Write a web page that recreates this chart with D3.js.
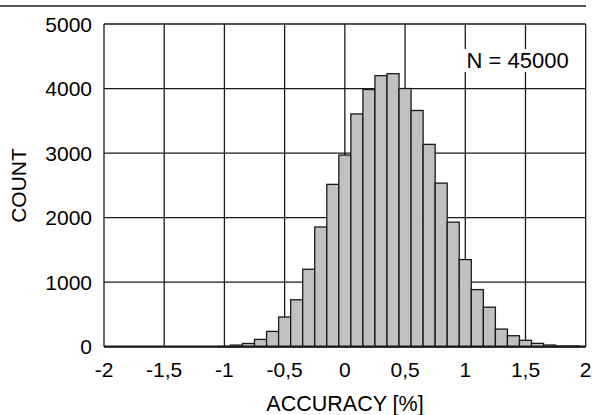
<!DOCTYPE html>
<html><head><meta charset="utf-8">
<script src="https://cdn.jsdelivr.net/npm/d3@7"></script>
<style>
html,body{margin:0;padding:0;background:#fff;}
svg{display:block;font-family:"Liberation Sans",Arial,Helvetica,sans-serif;}
</style></head>
<body>
<svg id="chart" width="593" height="415"></svg>
<script>
const binCenters = [-1.0,-0.9,-0.8,-0.7,-0.6,-0.5,-0.4,-0.3,-0.2,-0.1,0.0,0.1,0.2,0.3,0.4,0.5,0.6,0.7,0.8,0.9,1.0,1.1,1.2,1.3,1.4,1.5,1.6,1.7,1.8,1.9];
const counts = [5,25,50,113,237,460,727,1200,1855,2515,2970,3607,3985,4200,4230,4000,3660,3135,2535,1930,1350,885,612,273,170,99,52,26,10,10];
const binWidth = 0.1;
const xTicks = [-2,-1.5,-1,-0.5,0,0.5,1,1.5,2];
const yTicks = [0,1000,2000,3000,4000,5000];
const xLabel = "ACCURACY [%]";
const yLabel = "COUNT";
const note = "N = 45000";

const svg = d3.select("#chart");
const L = 104, R = 585.7, T = 24, B = 346.7;
const x = d3.scaleLinear().domain([-2,2]).range([L,R]);
const y = d3.scaleLinear().domain([0,5000]).range([B,T]);
const ink = "#1a1a1a";
const fmt = d => String(d).replace(".", ",");

// top page rule
svg.append("line").attr("x1",0).attr("x2",586).attr("y1",6).attr("y2",6)
  .attr("stroke",ink).attr("stroke-width",1.6);

// grid
const g = svg.append("g");
g.selectAll("line.v").data(xTicks).join("line")
  .attr("x1",d=>x(d)).attr("x2",d=>x(d)).attr("y1",T).attr("y2",B)
  .attr("stroke",ink).attr("stroke-width",1.3);
g.selectAll("line.h").data(yTicks).join("line")
  .attr("x1",L).attr("x2",R).attr("y1",d=>y(d)).attr("y2",d=>y(d))
  .attr("stroke",ink).attr("stroke-width",1.3);

// N label with white background
const nx = 466.5, ny = 68;
const nt = svg.append("text").attr("x",nx).attr("y",ny)
  .attr("font-size",22).attr("fill","#000").text(note);
const bb = nt.node().getBBox();
svg.insert("rect", "text").attr("x",bb.x-4).attr("y",bb.y+1).attr("width",bb.width+7).attr("height",bb.height-2)
  .attr("fill","#fff");

// bars
svg.append("g").selectAll("rect").data(binCenters.map((c,i)=>({c, v:counts[i]}))).join("rect")
  .attr("x",d=>x(d.c-binWidth/2)).attr("width",d=>x(d.c+binWidth/2)-x(d.c-binWidth/2))
  .attr("y",d=>y(d.v)).attr("height",d=>y(0)-y(d.v))
  .attr("fill","#c0c0c0").attr("stroke",ink).attr("stroke-width",1.3);

// bottom axis line (thicker)
svg.append("line").attr("x1",L).attr("x2",R).attr("y1",B).attr("y2",B)
  .attr("stroke",ink).attr("stroke-width",2.2);

// tick labels
svg.append("g").selectAll("text").data(xTicks).join("text")
  .attr("x",d=>x(d)).attr("y",377).attr("text-anchor","middle")
  .attr("font-size",21).text(fmt);
svg.append("g").selectAll("text").data(yTicks).join("text")
  .attr("x",92).attr("y",d=>y(d)+7.5).attr("text-anchor","end")
  .attr("font-size",21).text(d=>String(d));

// axis titles
svg.append("text").attr("x",345).attr("y",410.5).attr("text-anchor","middle")
  .attr("font-size",21.5).text(xLabel);
svg.append("text").attr("transform","translate(26,185.5) rotate(-90)")
  .attr("text-anchor","middle").attr("font-size",21).text(yLabel);
</script>
</body></html>
